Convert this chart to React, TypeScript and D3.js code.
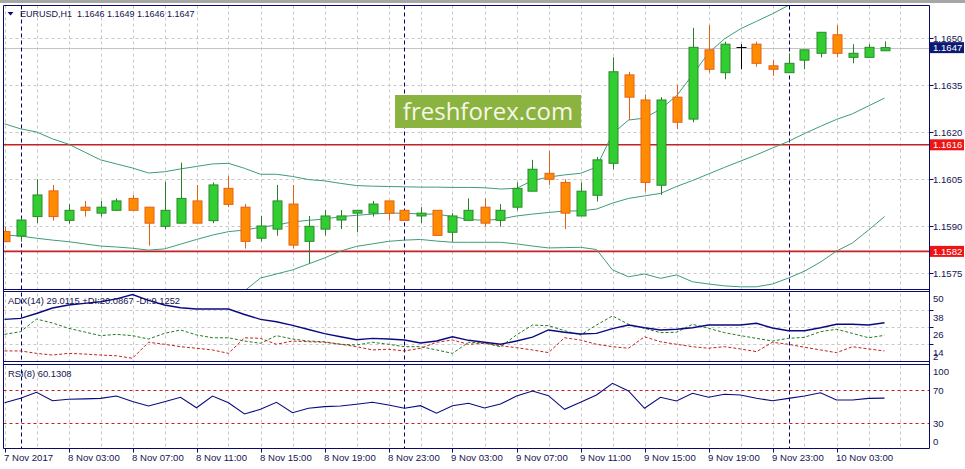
import { useEffect, useRef } from 'react';
import * as d3 from 'd3';

// H1 bars, index 0 = 7 Nov 23:00 ... index 55 = 10 Nov 06:00
const opens = [1.15883, 1.15869, 1.15931, 1.16013, 1.15919, 1.15961, 1.15942, 1.15951, 1.15989, 1.15961, 1.15900, 1.15910, 1.15981, 1.15918, 1.16021, 1.15961, 1.15862, 1.15891, 1.15971, 1.15852, 1.15891, 1.15920, 1.15942, 1.15942, 1.15981, 1.15951, 1.15933, 1.15951, 1.15881, 1.15919, 1.15961, 1.15919, 1.15961, 1.16012, 1.16069, 1.16040, 1.15933, 1.15999, 1.16101, 1.16383, 1.16303, 1.16031, 1.16312, 1.16242, 1.16463, 1.16390, 1.16471, 1.16481, 1.16412, 1.16390, 1.16430, 1.16452, 1.16511, 1.16439, 1.16439, 1.16460];
const highs = [1.15898, 1.15926, 1.16050, 1.16032, 1.15971, 1.15981, 1.15981, 1.15989, 1.16000, 1.15961, 1.16042, 1.16103, 1.16032, 1.16040, 1.16061, 1.15971, 1.15933, 1.16032, 1.16032, 1.15933, 1.15952, 1.15952, 1.15951, 1.15981, 1.15981, 1.15951, 1.15961, 1.15951, 1.15942, 1.15989, 1.15989, 1.15971, 1.16040, 1.16112, 1.16140, 1.16050, 1.16040, 1.16121, 1.16439, 1.16393, 1.16321, 1.16312, 1.16351, 1.16533, 1.16542, 1.16489, 1.16481, 1.16489, 1.16431, 1.16452, 1.16463, 1.16519, 1.16542, 1.16481, 1.16481, 1.16490];
const lows = [1.15850, 1.15851, 1.15910, 1.15918, 1.15908, 1.15931, 1.15931, 1.15951, 1.15951, 1.15838, 1.15891, 1.15910, 1.15910, 1.15910, 1.15961, 1.15829, 1.15851, 1.15870, 1.15829, 1.15782, 1.15871, 1.15891, 1.15881, 1.15931, 1.15918, 1.15919, 1.15910, 1.15871, 1.15851, 1.15919, 1.15899, 1.15899, 1.15951, 1.16012, 1.16032, 1.15891, 1.15933, 1.15979, 1.16082, 1.16239, 1.16011, 1.16000, 1.16210, 1.16232, 1.16390, 1.16369, 1.16401, 1.16409, 1.16380, 1.16390, 1.16401, 1.16439, 1.16439, 1.16420, 1.16439, 1.16460];
const closes = [1.15851, 1.15920, 1.16000, 1.15931, 1.15951, 1.15951, 1.15961, 1.15981, 1.15951, 1.15910, 1.15951, 1.15989, 1.15910, 1.16032, 1.15970, 1.15852, 1.15901, 1.15981, 1.15840, 1.15900, 1.15933, 1.15933, 1.15951, 1.15971, 1.15942, 1.15919, 1.15942, 1.15871, 1.15933, 1.15951, 1.15910, 1.15951, 1.16021, 1.16082, 1.16050, 1.15942, 1.16012, 1.16112, 1.16393, 1.16312, 1.16040, 1.16303, 1.16232, 1.16471, 1.16401, 1.16481, 1.16471, 1.16420, 1.16401, 1.16420, 1.16463, 1.16519, 1.16452, 1.16452, 1.16471, 1.16470];

// Bollinger bands
const bandUpper = [1.16227, 1.16211, 1.16201, 1.16179, 1.16162, 1.16137, 1.16112, 1.16099, 1.16086, 1.16070, 1.16074, 1.16083, 1.16091, 1.16099, 1.16101, 1.16085, 1.16066, 1.16066, 1.16059, 1.16049, 1.16045, 1.16037, 1.16030, 1.16028, 1.16027, 1.16026, 1.16025, 1.16025, 1.16024, 1.16024, 1.16023, 1.16019, 1.16021, 1.16046, 1.16057, 1.16064, 1.16069, 1.16089, 1.16195, 1.16239, 1.16245, 1.16274, 1.16316, 1.16383, 1.16453, 1.16498, 1.16530, 1.16554, 1.16578, 1.16605, 1.16629, 1.16651, 1.16667, 1.16680, 1.16689, 1.16696];
const bandMiddle = [1.15872, 1.15869, 1.15862, 1.15856, 1.15851, 1.15844, 1.15837, 1.15834, 1.15830, 1.15824, 1.15828, 1.15843, 1.15858, 1.15872, 1.15883, 1.15888, 1.15897, 1.15904, 1.15914, 1.15919, 1.15923, 1.15931, 1.15935, 1.15939, 1.15942, 1.15942, 1.15939, 1.15939, 1.15931, 1.15922, 1.15919, 1.15923, 1.15933, 1.15939, 1.15944, 1.15949, 1.15949, 1.15955, 1.15974, 1.15989, 1.15997, 1.16005, 1.16027, 1.16046, 1.16067, 1.16088, 1.16108, 1.16128, 1.16150, 1.16171, 1.16196, 1.16219, 1.16241, 1.16259, 1.16284, 1.16309];
const bandLower = [1.15518, 1.15528, 1.15525, 1.15534, 1.15540, 1.15550, 1.15563, 1.15569, 1.15574, 1.15579, 1.15582, 1.15601, 1.15627, 1.15646, 1.15665, 1.15694, 1.15735, 1.15748, 1.15761, 1.15780, 1.15799, 1.15821, 1.15836, 1.15844, 1.15852, 1.15856, 1.15858, 1.15853, 1.15849, 1.15849, 1.15849, 1.15849, 1.15844, 1.15837, 1.15831, 1.15832, 1.15833, 1.15826, 1.15761, 1.15739, 1.15748, 1.15734, 1.15745, 1.15723, 1.15716, 1.15710, 1.15707, 1.15707, 1.15716, 1.15735, 1.15757, 1.15786, 1.15821, 1.15847, 1.15888, 1.15931];

// ADX(14)
const adxMain = [31.4, 32.1, 35.5, 39.4, 41.5, 42.7, 43.8, 45.8, 48.9, 44.8, 41.5, 39.6, 38.7, 38.7, 38.7, 34.8, 31.4, 29.7, 27.1, 24.2, 21.3, 19.1, 17.0, 18.0, 17.5, 16.8, 14.7, 16.1, 19.1, 16.6, 15.2, 13.8, 16.1, 18.9, 23.9, 22.3, 21.1, 21.5, 24.9, 27.4, 25.5, 23.9, 24.4, 25.5, 27.4, 27.4, 27.4, 28.6, 25.3, 23.4, 23.4, 25.5, 27.9, 27.9, 27.4, 29.0];
const plusDi = [20.8, 22.7, 31.6, 28.8, 25.1, 22.5, 19.9, 20.8, 19.9, 17.5, 21.5, 23.9, 20.4, 18.4, 18.4, 16.1, 14.5, 19.9, 17.5, 16.1, 15.6, 13.8, 13.3, 15.2, 13.8, 12.1, 12.1, 9.8, 7.4, 15.2, 14.7, 12.1, 20.4, 27.4, 26.9, 23.4, 20.4, 27.4, 33.8, 27.9, 25.1, 22.0, 22.3, 27.9, 25.1, 22.0, 19.9, 18.0, 16.1, 18.0, 18.7, 22.7, 24.4, 21.5, 18.4, 20.1];
const minusDi = [9.1, 9.1, 7.4, 6.2, 7.4, 6.9, 6.2, 5.7, 3.9, 15.2, 13.8, 12.1, 11.0, 9.8, 7.4, 18.4, 18.0, 13.8, 16.1, 15.6, 15.2, 13.8, 12.1, 9.8, 10.3, 9.1, 11.0, 15.2, 16.8, 13.8, 14.5, 12.8, 11.4, 9.8, 7.9, 18.4, 16.8, 13.8, 12.1, 11.0, 19.1, 15.6, 13.8, 12.1, 11.0, 12.1, 10.5, 8.6, 15.2, 13.8, 11.7, 9.8, 7.9, 12.1, 10.5, 9.1];

// RSI(8)
const rsi = [54.6, 59.9, 67.2, 57.0, 58.7, 59.3, 59.9, 62.7, 56.1, 50.6, 55.8, 61.2, 48.5, 62.7, 54.6, 40.9, 46.6, 55.1, 42.5, 47.8, 49.8, 50.6, 52.7, 55.1, 51.8, 47.8, 51.0, 41.8, 51.0, 53.9, 48.2, 53.0, 62.7, 68.8, 63.1, 46.6, 55.1, 63.9, 78.1, 68.8, 47.8, 61.2, 56.7, 66.0, 61.2, 64.8, 63.9, 59.9, 57.0, 59.9, 62.7, 66.7, 57.9, 57.9, 59.9, 60.1];

const symbol = 'EURUSD,H1';
const adxTitle = 'ADX(14) 29.0115 +DI:20.0867 -DI:9.1252';
const rsiTitle = 'RSI(8) 60.1308';

const priceTicks = [1.1650, 1.1635, 1.1620, 1.1605, 1.1590, 1.1575];
const bidPrice = 1.1647;
const levels = [1.1616, 1.1582];
const adxTicks = [50, 38, 26, 14, 2];
const adxGrid = [38, 26, 14];
const rsiTicks = [100, 70, 30, 0];
const rsiLevels = [70, 30];
const separatorBars = [1, 25, 49];
const timeLabelBars = [0, 4, 8, 12, 16, 20, 24, 28, 32, 36, 40, 44, 48, 52];
const timeLabels = ['7 Nov 2017', '8 Nov 03:00', '8 Nov 07:00', '8 Nov 11:00', '8 Nov 15:00', '8 Nov 19:00', '8 Nov 23:00', '9 Nov 03:00', '9 Nov 07:00', '9 Nov 11:00', '9 Nov 15:00', '9 Nov 19:00', '9 Nov 23:00', '10 Nov 03:00'];

export default function App() {
    const svgRef = useRef<SVGSVGElement>(null);

    useEffect(() => {
        if (!svgRef.current) return;
        document.body.style.margin = '0';

        const svg = d3.select(svgRef.current);
        svg.selectAll('*').remove();

        const width = 965;
        const height = 469;
        const left = 3.5;
        const right = 929.5;
        const mainTop = 5.5, mainBottom = 289.5;
        const adxTop = 291.5, adxBottom = 361.5;
        const rsiTop = 364.5, rsiBottom = 448.5;

        const navy = '#0a0a6a';
        const textColor = '#141450';
        const gridColor = '#c8c8c8';
        const bandColor = '#3f9c74';
        const font = "Tahoma, 'Liberation Sans', Arial, sans-serif";

        const n = closes.length;
        const x = d3.scaleLinear().domain([0, n - 1]).range([4.5, 884.5]);
        const y = d3.scaleLinear().domain([1.157, 1.16606]).range([289, 5]);
        const yAdx = d3.scaleLinear().domain([1.3, 51.4]).range([362, 291]);
        const yRsi = d3.scaleLinear().domain([0, 100]).range([447.75, 365.25]);
        const snap = (v: number) => Math.round(v) + 0.5;

        svg.append('rect').attr('width', width).attr('height', height).attr('fill', '#ffffff');
        svg.append('rect').attr('width', width).attr('height', 3).attr('fill', '#a6a6a6');

        // --- clip paths ---
        const defs = svg.append('defs');
        const clip = (id: string, y0: number, y1: number) => {
            defs.append('clipPath').attr('id', id)
                .append('rect')
                .attr('x', left).attr('y', y0)
                .attr('width', right - left).attr('height', y1 - y0);
        };
        clip('clip-main', mainTop, mainBottom);
        clip('clip-adx', adxTop, adxBottom);
        clip('clip-rsi', rsiTop, rsiBottom);

        // --- grid ---
        const grid = svg.append('g');
        d3.range(0, n + 1, 2).forEach(i => {
            grid.append('line')
                .attr('x1', snap(x(i))).attr('x2', snap(x(i)))
                .attr('y1', mainTop).attr('y2', rsiBottom)
                .attr('stroke', gridColor).attr('stroke-dasharray', '3,3');
        });
        priceTicks.forEach(p => {
            grid.append('line')
                .attr('x1', left).attr('x2', right)
                .attr('y1', snap(y(p))).attr('y2', snap(y(p)))
                .attr('stroke', gridColor).attr('stroke-dasharray', '3,3');
        });
        adxGrid.forEach(v => {
            grid.append('line')
                .attr('x1', left).attr('x2', right)
                .attr('y1', snap(yAdx(v))).attr('y2', snap(yAdx(v)))
                .attr('stroke', gridColor).attr('stroke-dasharray', '3,3');
        });

        // bid line
        svg.append('line')
            .attr('x1', left).attr('x2', right)
            .attr('y1', snap(y(bidPrice))).attr('y2', snap(y(bidPrice)))
            .attr('stroke', '#c4c4c4');

        // day separators
        separatorBars.forEach(i => {
            svg.append('line')
                .attr('x1', snap(x(i))).attr('x2', snap(x(i)))
                .attr('y1', mainTop).attr('y2', rsiBottom)
                .attr('stroke', '#000066').attr('stroke-dasharray', '4,3');
        });

        // horizontal levels
        levels.forEach(p => {
            svg.append('line')
                .attr('x1', left).attr('x2', right)
                .attr('y1', y(p)).attr('y2', y(p))
                .attr('stroke', '#c62024').attr('stroke-width', 1.6);
        });

        // watermark
        svg.append('rect')
            .attr('x', 395).attr('y', 95).attr('width', 186).attr('height', 33)
            .attr('fill', '#8bb33f');
        svg.append('text')
            .attr('x', 488).attr('y', 120)
            .attr('text-anchor', 'middle')
            .attr('font-family', "'Open Sans', sans-serif")
            .attr('font-size', 24)
            .attr('fill', '#f6f6ea')
            .text('freshforex.com');

        // --- main panel: bands + candles ---
        const main = svg.append('g').attr('clip-path', 'url(#clip-main)');
        const priceLine = d3.line<number>().x((_, i) => x(i)).y(d => y(d));
        [bandUpper, bandMiddle, bandLower].forEach(band => {
            main.append('path')
                .attr('d', priceLine(band))
                .attr('fill', 'none')
                .attr('stroke', bandColor)
                .attr('stroke-width', 1);
        });

        closes.forEach((c, i) => {
            const o = opens[i];
            const cx = snap(x(i));
            const bull = c > o;
            const doji = c === o;
            const wickColor = doji ? '#000000' : bull ? '#2a7d2a' : '#e0601a';
            main.append('line')
                .attr('x1', cx).attr('x2', cx)
                .attr('y1', y(highs[i])).attr('y2', y(lows[i]))
                .attr('stroke', wickColor);
            if (doji) {
                main.append('line')
                    .attr('x1', cx - 5).attr('x2', cx + 5)
                    .attr('y1', snap(y(o))).attr('y2', snap(y(o)))
                    .attr('stroke', '#000000');
                return;
            }
            const top = y(Math.max(o, c));
            const bottom = y(Math.min(o, c));
            main.append('rect')
                .attr('x', cx - 4.5).attr('width', 9)
                .attr('y', top).attr('height', Math.max(1, bottom - top))
                .attr('fill', bull ? '#32cd32' : '#ff8c00')
                .attr('stroke', bull ? '#2a8a2a' : '#e4601a')
                .attr('stroke-width', 1);
        });

        // --- ADX panel ---
        const adxG = svg.append('g').attr('clip-path', 'url(#clip-adx)');
        const adxLine = d3.line<number>().x((_, i) => x(i)).y(d => yAdx(d));
        adxG.append('path').attr('d', adxLine(plusDi)).attr('fill', 'none')
            .attr('stroke', '#1f7a1f').attr('stroke-dasharray', '3,2');
        adxG.append('path').attr('d', adxLine(minusDi)).attr('fill', 'none')
            .attr('stroke', '#c42020').attr('stroke-dasharray', '3,2');
        adxG.append('path').attr('d', adxLine(adxMain)).attr('fill', 'none')
            .attr('stroke', '#0a0a80').attr('stroke-width', 1.4);

        // --- RSI panel ---
        const rsiG = svg.append('g').attr('clip-path', 'url(#clip-rsi)');
        rsiLevels.forEach(v => {
            rsiG.append('line')
                .attr('x1', left).attr('x2', right)
                .attr('y1', snap(yRsi(v))).attr('y2', snap(yRsi(v)))
                .attr('stroke', '#c42020').attr('stroke-dasharray', '3,3');
        });
        const rsiLine = d3.line<number>().x((_, i) => x(i)).y(d => yRsi(d));
        rsiG.append('path').attr('d', rsiLine(rsi)).attr('fill', 'none')
            .attr('stroke', '#0a0a80').attr('stroke-width', 1.1);

        // --- frame ---
        svg.append('rect').attr('x', 0).attr('y', 290).attr('width', right).attr('height', 1).attr('fill', '#ffffff');
        svg.append('rect').attr('x', 0).attr('y', 362).attr('width', right).attr('height', 2).attr('fill', '#ffffff');
        [mainTop, mainBottom, adxTop, adxBottom, rsiTop, rsiBottom].forEach(yy => {
            svg.append('line').attr('x1', left).attr('x2', right)
                .attr('y1', yy).attr('y2', yy).attr('stroke', navy);
        });
        [left, right].forEach(xx => {
            svg.append('line').attr('x1', xx).attr('x2', xx)
                .attr('y1', mainTop).attr('y2', rsiBottom).attr('stroke', navy);
        });

        const label = (tx: number, ty: number, s: string, size = 9.6, fill = textColor) =>
            svg.append('text')
                .attr('x', tx).attr('y', ty)
                .attr('font-family', font)
                .attr('font-size', size)
                .attr('fill', fill)
                .style('white-space', 'pre')
                .text(s);

        // price axis
        priceTicks.forEach(p => {
            const py = y(p);
            svg.append('line').attr('x1', right).attr('x2', right + 4)
                .attr('y1', snap(py)).attr('y2', snap(py)).attr('stroke', navy);
            label(933, py + 3.5, p.toFixed(4));
        });

        // tagged prices
        const tag = (p: number, fill: string) => {
            const py = y(p);
            svg.append('rect')
                .attr('x', 930).attr('y', py - 5.5)
                .attr('width', 34).attr('height', 11)
                .attr('fill', fill);
            label(933, py + 3.6, p.toFixed(4), 9.6, '#ffffff');
        };
        tag(bidPrice, '#0c1a73');
        levels.forEach(p => tag(p, '#ee1414'));

        // ADX axis
        adxTicks.forEach((v, k) => {
            let ly = yAdx(v) + 8;
            if (k === 0) ly = adxTop + 7;
            if (k === adxTicks.length - 1) ly = adxBottom - 5;
            label(933, ly + 3.5, String(v));
        });
        adxGrid.forEach(v => {
            svg.append('line').attr('x1', right).attr('x2', right + 4)
                .attr('y1', snap(yAdx(v))).attr('y2', snap(yAdx(v))).attr('stroke', navy);
        });

        // RSI axis
        rsiTicks.forEach(v => {
            const ly = Math.min(Math.max(yRsi(v), rsiTop + 6.5), rsiBottom - 7.5);
            label(933, ly + 3.5, String(v));
        });

        // time axis
        timeLabelBars.forEach((b, k) => {
            const tx = snap(x(b));
            svg.append('line').attr('x1', tx).attr('x2', tx)
                .attr('y1', rsiBottom).attr('y2', rsiBottom + 4).attr('stroke', navy);
            label(tx - 1.5, 461, timeLabels[k]);
        });

        // headers
        const last = n - 1;
        svg.append('path').attr('d', 'M7.5,12 L13.5,12 L10.5,15.5 Z').attr('fill', navy);
        label(20, 17, `${symbol}  ${opens[last].toFixed(4)} ${highs[last].toFixed(4)} ${lows[last].toFixed(4)} ${closes[last].toFixed(4)}`, 9);
        label(8, 304, adxTitle, 9.4);
        label(8, 377, rsiTitle, 9.4);
    }, []);

    return <svg ref={svgRef} width={965} height={469} style={{ display: 'block' }} />;
}
